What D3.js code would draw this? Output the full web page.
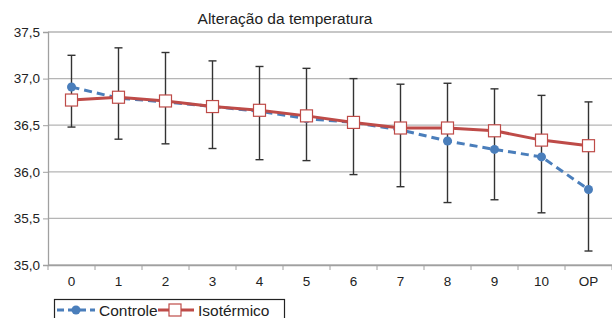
<!DOCTYPE html>
<html>
<head>
<meta charset="utf-8">
<script src="https://cdn.jsdelivr.net/npm/d3@7"></script>
<style>
  body { margin: 0; background: #fff; }
  text { font-family: "Liberation Sans", Arial, sans-serif; fill: #222; }
</style>
</head>
<body>
<div id="chart"></div>
<script>
// Data
const categories = ["0", "1", "2", "3", "4", "5", "6", "7", "8", "9", "10", "OP"];
const controle = [36.91, 36.79, 36.75, 36.70, 36.65, 36.57, 36.53, 36.45, 36.33, 36.24, 36.16, 35.81];
const isotermico = [36.77, 36.80, 36.76, 36.70, 36.66, 36.60, 36.53, 36.47, 36.47, 36.44, 36.34, 36.28];
const errTop = [37.25, 37.33, 37.28, 37.19, 37.13, 37.11, 37.00, 36.94, 36.95, 36.89, 36.82, 36.75];
const errBottom = [36.48, 36.35, 36.30, 36.25, 36.13, 36.12, 35.97, 35.84, 35.67, 35.70, 35.56, 35.15];
const yTicks = [35.0, 35.5, 36.0, 36.5, 37.0, 37.5];

const width = 612, height = 318;
const margin = { top: 32, right: 0, bottom: 53, left: 48 };

const blue = "#4a7ebb";
const red = "#be4b48";

const svg = d3.select("#chart").append("svg")
  .attr("width", width)
  .attr("height", height);

const x = d3.scaleBand()
  .domain(categories)
  .range([margin.left, width - margin.right]);

const y = d3.scaleLinear()
  .domain([35, 37.5])
  .range([height - margin.bottom, margin.top]);

const cx = (d) => x(d) + x.bandwidth() / 2;

// Gridlines
svg.append("g")
  .selectAll("line")
  .data(yTicks)
  .join("line")
  .attr("x1", margin.left)
  .attr("x2", width - margin.right)
  .attr("y1", (d) => y(d))
  .attr("y2", (d) => y(d))
  .attr("stroke", "#b5b5b5")
  .attr("stroke-width", 1.3);

// Y axis
const yAxis = svg.append("g")
  .attr("transform", `translate(${margin.left},0)`)
  .call(d3.axisLeft(y).tickValues(yTicks).tickSize(5)
    .tickFormat((d) => d3.format(".1f")(d).replace(".", ",")));
yAxis.select(".domain").attr("stroke", "#a0a0a0").attr("stroke-width", 1.3);
yAxis.selectAll(".tick line").attr("stroke", "#a0a0a0");
yAxis.selectAll(".tick text").attr("x", -8).style("font-size", "13.5px")
  .style("font-family", "Liberation Sans, Arial, sans-serif").attr("fill", "#222");

// X axis
const xAxis = svg.append("g")
  .attr("transform", `translate(0,${y(35)})`)
  .call(d3.axisBottom(x).tickSize(0).tickPadding(11));
xAxis.select(".domain").attr("stroke", "#a0a0a0").attr("stroke-width", 1.3);
xAxis.selectAll(".tick text").style("font-size", "13.5px")
  .style("font-family", "Liberation Sans, Arial, sans-serif").attr("fill", "#222");
// tick marks between categories
svg.append("g")
  .selectAll("line")
  .data(categories.concat(["end"]))
  .join("line")
  .attr("x1", (d, i) => margin.left + i * x.step())
  .attr("x2", (d, i) => margin.left + i * x.step())
  .attr("y1", y(35))
  .attr("y2", y(35) + 5)
  .attr("stroke", "#a0a0a0");

// Error bars
const err = svg.append("g").attr("stroke", "#333").attr("stroke-width", 1.4);
categories.forEach((c, i) => {
  err.append("line").attr("x1", cx(c)).attr("x2", cx(c))
    .attr("y1", y(errTop[i])).attr("y2", y(errBottom[i]));
  [errTop[i], errBottom[i]].forEach((v) => {
    err.append("line").attr("x1", cx(c) - 4).attr("x2", cx(c) + 4)
      .attr("y1", y(v)).attr("y2", y(v));
  });
});

const line = d3.line().x((d, i) => cx(categories[i])).y((d) => y(d));

// Controle: blue dashed with circles
svg.append("path")
  .datum(controle)
  .attr("d", line)
  .attr("fill", "none")
  .attr("stroke", blue)
  .attr("stroke-width", 3)
  .attr("stroke-dasharray", "8,5");
svg.append("g")
  .selectAll("circle")
  .data(controle)
  .join("circle")
  .attr("cx", (d, i) => cx(categories[i]))
  .attr("cy", (d) => y(d))
  .attr("r", 4.5)
  .attr("fill", blue);

// Isotérmico: red solid with white squares
svg.append("path")
  .datum(isotermico)
  .attr("d", line)
  .attr("fill", "none")
  .attr("stroke", red)
  .attr("stroke-width", 3);
svg.append("g")
  .selectAll("rect")
  .data(isotermico)
  .join("rect")
  .attr("x", (d, i) => cx(categories[i]) - 6)
  .attr("y", (d) => y(d) - 6)
  .attr("width", 12)
  .attr("height", 12)
  .attr("fill", "#fff")
  .attr("stroke", red)
  .attr("stroke-width", 1.2);

// Title
svg.append("text")
  .attr("x", 285)
  .attr("y", 24)
  .attr("text-anchor", "middle")
  .style("font-size", "15.5px")
  .text("Alteração da temperatura");

// Legend
const lg = svg.append("g");
lg.append("rect")
  .attr("x", 54.5).attr("y", 299.5)
  .attr("width", 230).attr("height", 24)
  .attr("fill", "#fff").attr("stroke", "#222").attr("stroke-width", 1.2);

lg.append("line").attr("x1", 57).attr("x2", 95).attr("y1", 310).attr("y2", 310)
  .attr("stroke", blue).attr("stroke-width", 3).attr("stroke-dasharray", "7,4");
lg.append("circle").attr("cx", 76).attr("cy", 310).attr("r", 4.5).attr("fill", blue);
lg.append("text").attr("x", 99).attr("y", 315.5).style("font-size", "15.5px").text("Controle");

lg.append("line").attr("x1", 158).attr("x2", 194).attr("y1", 310).attr("y2", 310)
  .attr("stroke", red).attr("stroke-width", 3);
lg.append("rect").attr("x", 169).attr("y", 304).attr("width", 12).attr("height", 12)
  .attr("fill", "#fff").attr("stroke", red).attr("stroke-width", 1.2);
lg.append("text").attr("x", 198).attr("y", 315.5).style("font-size", "15.5px")
  .text("Isotérmico");
</script>
</body>
</html>
